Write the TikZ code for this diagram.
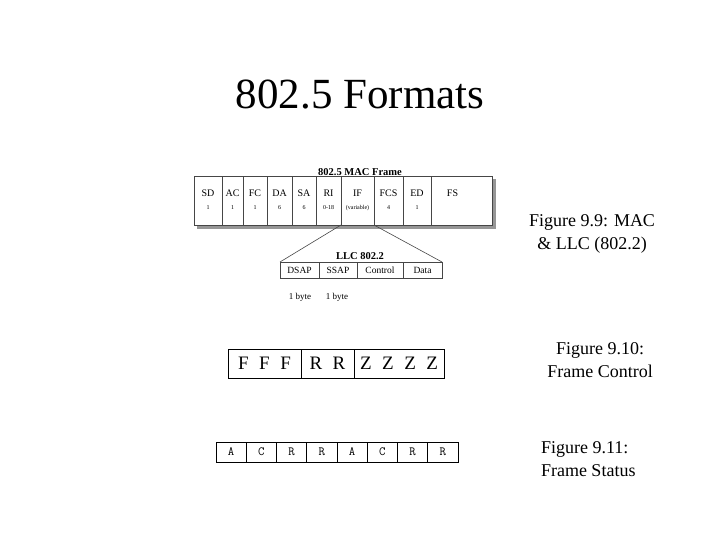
\documentclass[tikz,border=0pt]{standalone}
\usepackage{fontspec}
\setmainfont{Liberation Serif}
\usepackage{tikz}
\usetikzlibrary{positioning, calc}
\definecolor{shadowgray}{RGB}{150,150,150}
\definecolor{framegray}{RGB}{70,70,70}
\newcommand{\macfield}[2]{#1\\[2pt]\fontsize{6}{6}\selectfont\vphantom{(}#2}

\begin{document}
\begin{tikzpicture}[
    x=1pt, y=-1pt,
    every node/.style={inner sep=0pt, outer sep=0pt},
    maccell/.style={rectangle, draw=framegray, line width=0.7pt, fill=white, minimum height=49pt, align=center, font=\fontsize{10}{11}\selectfont},
    llccell/.style={rectangle, draw=framegray, line width=0.7pt, minimum height=16pt, text height=6.5pt, text depth=0.5pt, font=\fontsize{9.5}{10}\selectfont},
    fccell/.style={rectangle, draw, line width=0.8pt, minimum height=29pt, font={\fontsize{19}{22}\selectfont\spaceskip=10.5pt}},
    stcell/.style={rectangle, draw, line width=0.6pt, minimum width=30.25pt, minimum height=20pt, font=\ttfamily\fontsize{12.5}{12}\selectfont},
    fignote/.style={align=center, font=\fontsize{18}{23}\selectfont},
]
\useasboundingbox (0,0) rectangle (720,540);

\node[font=\fontsize{43}{43}\selectfont] (title) at (360,95) {802.5 Formats};

% MAC frame
\node[font=\bfseries\fontsize{10.5}{11}\selectfont] (macttl) at (360,172) {802.5 MAC Frame};
\fill[shadowgray] (197,179) rectangle (496,229);
\node[maccell, minimum width=28pt] (sd) at (208,200.5) {\macfield{SD}{1}};
\node[maccell, minimum width=21pt, right=0pt of sd] (ac) {\macfield{AC}{1}};
\node[maccell, minimum width=24pt, right=0pt of ac] (fc) {\macfield{FC}{1}};
\node[maccell, minimum width=25pt, right=0pt of fc] (da) {\macfield{DA}{6}};
\node[maccell, minimum width=24pt, right=0pt of da] (sa) {\macfield{SA}{6}};
\node[maccell, minimum width=25pt, right=0pt of sa] (ri) {\macfield{RI}{0-18}};
\node[maccell, minimum width=33pt, right=0pt of ri] (if) {\macfield{IF}{(variable)}};
\node[maccell, minimum width=29pt, right=0pt of if] (fcs) {\macfield{FCS}{4}};
\node[maccell, minimum width=28pt, right=0pt of fcs] (ed) {\macfield{ED}{1}};
\node[maccell, minimum width=61pt, right=0pt of ed] (fs) {\macfield{FS\hspace*{18pt}}{~}};

% LLC
\node[llccell, minimum width=39pt] (dsap) at (299.5,270) {DSAP};
\node[llccell, minimum width=38pt, right=0pt of dsap] (ssap) {SSAP};
\node[llccell, minimum width=46pt, right=0pt of ssap] (ctrl) {Control};
\node[llccell, minimum width=39pt, right=0pt of ctrl] (data) {Data};
\node[font=\bfseries\fontsize{10.5}{11}\selectfont] (llcttl) at (360,256) {LLC 802.2};
\node[font=\fontsize{9}{10}\selectfont] (byte1) at (300,297) {1 byte};
\node[font=\fontsize{9}{10}\selectfont] (byte2) at (337,297) {1 byte};

\draw[framegray, line width=0.6pt] (if.south west) -- (dsap.north west);
\draw[framegray, line width=0.6pt] (if.south east) -- (data.north east);

\node[fignote] (fig99) at (592,234) {Figure 9.9: MAC\\\& LLC (802.2)};

% frame control
\node[fccell, minimum width=73pt] (fff) at (264.5,363.5) {F F F};
\node[fccell, minimum width=53pt, right=0pt of fff] (rr) {R R};
\node[fccell, minimum width=90pt, right=0pt of rr] (zzzz) {Z Z Z Z};
\node[fignote] (fig910) at (600,360) {Figure 9.10:\\Frame Control};

% frame status
\foreach \l [count=\i] in {A,C,R,R,A,C,R,R}
    \node[stcell] (st\i) at ({200.875+30.25*\i},452) {\l};
\node[fignote, align=left, anchor=west] (fig911) at (541,459) {Figure 9.11:\\Frame Status};
\end{tikzpicture}
\end{document}
